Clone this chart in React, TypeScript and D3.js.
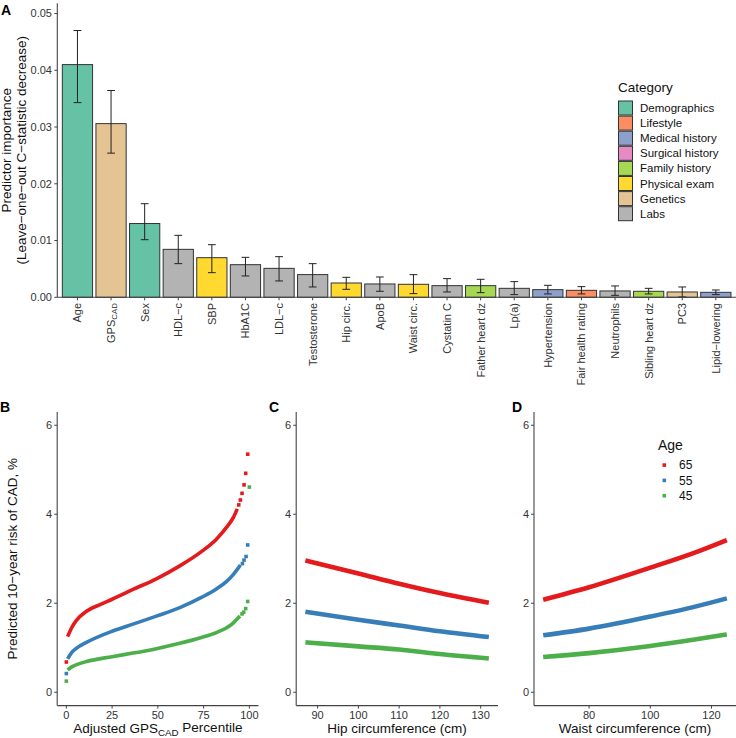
import React from "react";
import * as d3 from "d3";

// ---------- Panel A data ----------
const barNames = [
  "Age", "GPS", "Sex", "HDL−c", "SBP", "HbA1C", "LDL−c", "Testosterone", "Hip circ.",
  "ApoB", "Waist circ.", "Cystatin C", "Father heart dz", "Lp(a)", "Hypertension",
  "Fair health rating", "Neutrophils", "Sibling heart dz", "PC3", "Lipid−lowering",
];
const barValues = [
  0.0410, 0.0306, 0.0130, 0.00845, 0.00698, 0.00575, 0.0051, 0.0040, 0.00252,
  0.00235, 0.00229, 0.00205, 0.00205, 0.00158, 0.00135, 0.00123, 0.00112, 0.00106, 0.00094, 0.00088,
];
const barLow = [
  0.0343, 0.0254, 0.01015, 0.00593, 0.00434, 0.00376, 0.00288, 0.00182, 0.00141,
  0.00106, 0.00065, 0.00094, 0.00082, 0.00047, 0.00059, 0.00059, 0.00035, 0.00059, 0.00006, 0.00047,
];
const barHigh = [
  0.0470, 0.03644, 0.01649, 0.01092, 0.00927, 0.00704, 0.00716, 0.00593, 0.00352,
  0.00358, 0.00399, 0.00329, 0.00317, 0.00276, 0.00211, 0.00188, 0.0020, 0.00158, 0.00182, 0.00129,
];
const barCategories = [
  "Demographics", "Genetics", "Demographics", "Labs", "Physical exam", "Labs", "Labs", "Labs", "Physical exam",
  "Labs", "Physical exam", "Labs", "Family history", "Labs", "Medical history",
  "Lifestyle", "Labs", "Family history", "Genetics", "Medical history",
];
const categoryNames = [
  "Demographics", "Lifestyle", "Medical history", "Surgical history",
  "Family history", "Physical exam", "Genetics", "Labs",
];
const categoryColors = [
  "#66c2a5", "#fc8d62", "#8da0cb", "#e78ac3", "#a6d854", "#ffd92f", "#e5c494", "#b3b3b3",
];
const importanceTicks = [0, 0.01, 0.02, 0.03, 0.04, 0.05];

// ---------- Panels B-D data ----------
const ageGroups = ["65", "55", "45"];
const ageColors = ["#e41a1c", "#377eb8", "#4daf4a"];
const riskTicks = [0, 2, 4, 6];

// Panel B: dense part (continuous band of points) and sparse end points
const gpsDense65: [number, number][] = [
  [0.7, 1.25], [2.9, 1.45], [5.6, 1.62], [11, 1.82], [18.4, 1.97], [25, 2.09], [36.4, 2.31],
  [49.2, 2.55], [62, 2.84], [73.8, 3.16], [82, 3.44], [87.6, 3.71], [91.3, 3.93], [93.4, 4.12],
];
const gpsSparse65: [number, number][] = [
  [0, 0.68], [94.2, 4.21], [95.1, 4.32], [96.0, 4.47], [97.1, 4.66], [98.0, 4.92], [99.1, 5.35],
];
const gpsDense55: [number, number][] = [
  [0.7, 0.75], [2.9, 0.89], [5.6, 0.99], [11, 1.12], [25, 1.37], [36.4, 1.53], [49.2, 1.71],
  [62, 1.9], [73.8, 2.13], [82, 2.32], [87.6, 2.49], [91.3, 2.65], [93.4, 2.76], [95.1, 2.86],
];
const gpsSparse55: [number, number][] = [
  [0, 0.42], [96.2, 2.89], [97.1, 2.97], [98.2, 3.05], [99.1, 3.31],
];
const gpsDense45: [number, number][] = [
  [0.7, 0.5], [2.9, 0.57], [5.6, 0.62], [11, 0.69], [25, 0.8], [36.4, 0.88], [49.2, 0.98],
  [62, 1.1], [73.8, 1.23], [82, 1.34], [87.6, 1.45], [91.3, 1.56], [93.4, 1.65], [94.9, 1.71],
];
const gpsSparse45: [number, number][] = [
  [0, 0.25], [96.0, 1.76], [96.9, 1.8], [98.0, 1.88], [99.1, 2.04], [100, 4.61],
];
const gpsDense = [gpsDense65, gpsDense55, gpsDense45];
const gpsSparse = [gpsSparse65, gpsSparse55, gpsSparse45];
const gpsTicks = [0, 25, 50, 75, 100];

// Panel C: hip circumference
const hipCm = [87, 100, 110, 120, 132];
const hipRisk65 = [2.96, 2.67, 2.44, 2.23, 2.01];
const hipRisk55 = [1.81, 1.63, 1.5, 1.37, 1.24];
const hipRisk45 = [1.12, 1.03, 0.96, 0.86, 0.76];
const hipRisk = [hipRisk65, hipRisk55, hipRisk45];
const hipTicks = [90, 100, 110, 120, 130];

// Panel D: waist circumference
const waistCm = [65, 80, 100, 115, 125];
const waistRisk65 = [2.08, 2.36, 2.8, 3.15, 3.42];
const waistRisk55 = [1.28, 1.43, 1.7, 1.93, 2.11];
const waistRisk45 = [0.79, 0.88, 1.04, 1.19, 1.3];
const waistRisk = [waistRisk65, waistRisk55, waistRisk45];
const waistTicks = [80, 100, 120];

const FONT = "'Liberation Sans', Arial, Helvetica, sans-serif";
const AXIS = "#444";
const TICKTXT = "#333";

function Sub({ main, sub, after }: { main: string; sub: string; after?: string }) {
  return (
    <>
      <tspan>{main}</tspan>
      <tspan fontSize="0.72em" dy="0.3em">{sub}</tspan>
      {after ? <tspan dy="-0.3em">{after}</tspan> : null}
    </>
  );
}

function RiskPanel({
  x0, x1, domain, ticks, title, children, showYTitle,
}: {
  x0: number; x1: number; domain: [number, number]; ticks: number[];
  title: React.ReactNode; children: (x: d3.ScaleLinear<number, number>, y: d3.ScaleLinear<number, number>) => React.ReactNode;
  showYTitle?: boolean;
}) {
  const yTop = 411.9, yBot = 705.6;
  const x = d3.scaleLinear().domain(domain).range([x0, x1]);
  const y = d3.scaleLinear().domain([-0.3, 6.3]).range([yBot, yTop]);
  return (
    <g>
      {children(x, y)}
      <line x1={x0} x2={x0} y1={yTop} y2={yBot} stroke={AXIS} strokeWidth={1.1} />
      <line x1={x0} x2={x1} y1={yBot} y2={yBot} stroke={AXIS} strokeWidth={1.1} />
      {riskTicks.map((t) => (
        <g key={t}>
          <line x1={x0 - 3} x2={x0} y1={y(t)} y2={y(t)} stroke={AXIS} strokeWidth={1} />
          <text x={x0 - 5} y={y(t)} dy="0.35em" textAnchor="end" fontSize={11} fill={TICKTXT}>{t}</text>
        </g>
      ))}
      {ticks.map((t) => (
        <g key={t}>
          <line x1={x(t)} x2={x(t)} y1={yBot} y2={yBot + 3} stroke={AXIS} strokeWidth={1} />
          <text x={x(t)} y={yBot + 13} textAnchor="middle" fontSize={11} fill={TICKTXT}>{t}</text>
        </g>
      ))}
      <text x={(x0 + x1) / 2} y={733} textAnchor="middle" fontSize={13.5} fill="#111">{title}</text>
      {showYTitle ? (
        <text transform={`translate(17,${(yTop + yBot) / 2}) rotate(-90)`} textAnchor="middle" fontSize={13.5} fill="#111">
          Predicted 10−year risk of CAD, %
        </text>
      ) : null}
    </g>
  );
}

export default function App() {
  // Panel A scales
  const xA = d3.scaleBand<string>().domain(barNames).range([57.3, 736]).paddingInner(0.1).paddingOuter(0.15);
  const yA = d3.scaleLinear().domain([0, 0.0518]).range([297.3, 3.3]);
  const color = d3.scaleOrdinal<string, string>().domain(categoryNames).range(categoryColors);

  const lineFor = (x: d3.ScaleLinear<number, number>, y: d3.ScaleLinear<number, number>) =>
    d3.line<[number, number]>().x((d) => x(d[0])).y((d) => y(d[1])).curve(d3.curveMonotoneX);

  return (
    <svg width={736} height={738} style={{ position: "absolute", left: 0, top: 0, fontFamily: FONT }}>
      <rect width={736} height={738} fill="#fff" />

      {/* ---------------- Panel A ---------------- */}
      <text x={1} y={15} fontSize={14} fontWeight="bold">A</text>
      {barNames.map((name, i) => {
        const cx = (xA(name) as number) + xA.bandwidth() / 2;
        return (
          <g key={name}>
            <rect
              x={xA(name)} y={yA(barValues[i])} width={xA.bandwidth()} height={yA(0) - yA(barValues[i])}
              fill={color(barCategories[i])} stroke="#333" strokeWidth={1}
            />
            <line x1={cx} x2={cx} y1={yA(barLow[i])} y2={yA(barHigh[i])} stroke="#222" strokeWidth={1} />
            <line x1={cx - 3.9} x2={cx + 3.9} y1={yA(barLow[i])} y2={yA(barLow[i])} stroke="#222" strokeWidth={1} />
            <line x1={cx - 3.9} x2={cx + 3.9} y1={yA(barHigh[i])} y2={yA(barHigh[i])} stroke="#222" strokeWidth={1} />
            <line x1={cx} x2={cx} y1={297.3} y2={300.3} stroke={AXIS} strokeWidth={1} />
            <text transform={`translate(${cx},${303}) rotate(-90)`} textAnchor="end" dy="0.35em" fontSize={11} fill={TICKTXT}>
              {name === "GPS" ? <Sub main="GPS" sub="CAD" /> : name}
            </text>
          </g>
        );
      })}
      <line x1={57.3} x2={57.3} y1={3.3} y2={297.3} stroke={AXIS} strokeWidth={1.1} />
      <line x1={57.3} x2={736} y1={297.3} y2={297.3} stroke={AXIS} strokeWidth={1.1} />
      {importanceTicks.map((t) => (
        <g key={t}>
          <line x1={54.3} x2={57.3} y1={yA(t)} y2={yA(t)} stroke={AXIS} strokeWidth={1} />
          <text x={52} y={yA(t)} dy="0.35em" textAnchor="end" fontSize={11} fill={TICKTXT}>{t.toFixed(2)}</text>
        </g>
      ))}
      <text transform={`translate(11,150.3) rotate(-90)`} textAnchor="middle" fontSize={13.5} fill="#111">
        Predictor importance
      </text>
      <text transform={`translate(26,150.3) rotate(-90)`} textAnchor="middle" fontSize={13.5} fill="#111">
        (Leave−one−out C−statistic decrease)
      </text>

      {/* Legend A */}
      <text x={618} y={91.5} fontSize={13.5} fill="#111">Category</text>
      {categoryNames.map((c, i) => (
        <g key={c}>
          <rect x={618.5} y={101 + i * 15.1} width={14} height={14} fill={categoryColors[i]} stroke="#333" strokeWidth={1} />
          <text x={640} y={108 + i * 15.1} dy="0.35em" fontSize={11.5} fill="#111">{c}</text>
        </g>
      ))}

      {/* ---------------- Panel B ---------------- */}
      <text x={0} y={412} fontSize={14} fontWeight="bold">B</text>
      <RiskPanel
        x0={57.2} x1={258.5} domain={[-5, 105]} ticks={gpsTicks} showYTitle
        title={<Sub main="Adjusted GPS" sub="CAD" after=" Percentile" />}
      >
        {(x, y) => (
          <g>
            {ageGroups.map((g, i) => (
              <g key={g}>
                <path d={lineFor(x, y)(gpsDense[i]) || ""} fill="none" stroke={ageColors[i]} strokeWidth={3.6} />
                {gpsSparse[i].map((p, j) => (
                  <rect key={j} x={x(p[0]) - 1.8} y={y(p[1]) - 1.8} width={3.6} height={3.6} fill={ageColors[i]} />
                ))}
              </g>
            ))}
          </g>
        )}
      </RiskPanel>

      {/* ---------------- Panel C ---------------- */}
      <text x={269} y={412} fontSize={14} fontWeight="bold">C</text>
      <RiskPanel x0={296.2} x1={498} domain={[84.75, 134.25]} ticks={hipTicks} title="Hip circumference (cm)">
        {(x, y) => (
          <g>
            {ageGroups.map((g, i) => (
              <path key={g} d={lineFor(x, y)(hipCm.map((v, k) => [v, hipRisk[i][k]] as [number, number])) || ""}
                fill="none" stroke={ageColors[i]} strokeWidth={4.6} />
            ))}
          </g>
        )}
      </RiskPanel>

      {/* ---------------- Panel D ---------------- */}
      <text x={512} y={412} fontSize={14} fontWeight="bold">D</text>
      <RiskPanel x0={534} x1={736} domain={[62, 128]} ticks={waistTicks} title="Waist circumference (cm)">
        {(x, y) => (
          <g>
            {ageGroups.map((g, i) => (
              <path key={g} d={lineFor(x, y)(waistCm.map((v, k) => [v, waistRisk[i][k]] as [number, number])) || ""}
                fill="none" stroke={ageColors[i]} strokeWidth={4.6} />
            ))}
          </g>
        )}
      </RiskPanel>

      {/* Legend D */}
      <text x={658} y={450} fontSize={14} fill="#111">Age</text>
      {ageGroups.map((g, i) => (
        <g key={g}>
          <rect x={662.5} y={463.3 + i * 15.3} width={3.6} height={3.6} fill={ageColors[i]} />
          <text x={679} y={465 + i * 15.3} dy="0.35em" fontSize={12} fill="#111">{g}</text>
        </g>
      ))}
    </svg>
  );
}
